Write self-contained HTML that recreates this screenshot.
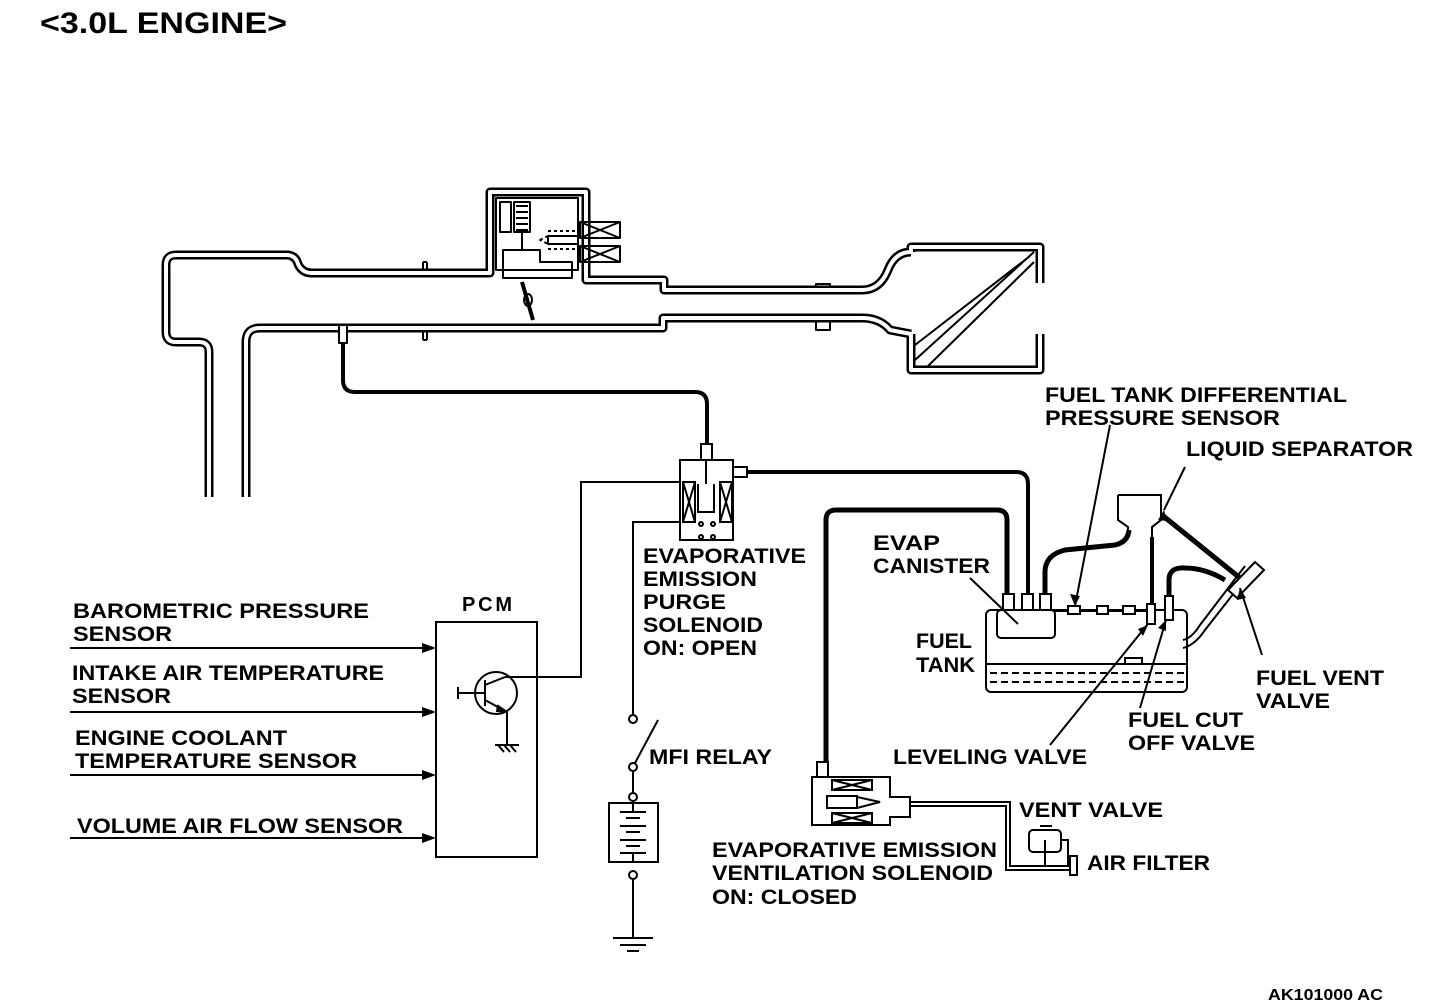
<!DOCTYPE html>
<html><head><meta charset="utf-8"><style>
html,body{margin:0;padding:0;background:#fff;}
svg{display:block;}
text{font-family:"Liberation Sans",sans-serif;font-weight:bold;fill:#000;}
</style></head><body>
<svg width="1456" height="1008" viewBox="0 0 1456 1008" xmlns="http://www.w3.org/2000/svg">
<text x="40" y="33" font-size="30" textLength="247" lengthAdjust="spacingAndGlyphs">&lt;3.0L ENGINE&gt;</text>

<!-- intake walls -->
<g fill="none" stroke-linejoin="round">
 <g stroke="#000" stroke-width="9">
  <path d="M209,497 L209,352 Q209,342 199,342 L176,342 Q166,342 166,332 L166,265 Q166,255 176,255 L288,255 Q296,256 298,264 Q302,273 312,273 L490,273 L490,192 L586,192 L586,280 L664,280 L664,290 L862,290 Q880,290 888,270 Q895,252 911,252"/>
  <path d="M246,497 L246,342 Q246,328 260,328 L663,328 L663,318 L862,318 Q880,318 890,330 L911,334"/>
  <path d="M911,252 L911,247 L1040,247 L1040,283 M911,334 L911,370 L1040,370 L1040,334"/>
 </g>
 <g stroke="#fff" stroke-width="4">
  <path d="M209,497 L209,352 Q209,342 199,342 L176,342 Q166,342 166,332 L166,265 Q166,255 176,255 L288,255 Q296,256 298,264 Q302,273 312,273 L490,273 L490,192 L586,192 L586,280 L664,280 L664,290 L862,290 Q880,290 888,270 Q895,252 911,252"/>
  <path d="M246,497 L246,342 Q246,328 260,328 L663,328 L663,318 L862,318 Q880,318 890,330 L911,334"/>
  <path d="M911,252 L911,247 L1040,247 L1040,283 M911,334 L911,370 L1040,370 L1040,334"/>
 </g>
 <!-- small flanges/notches -->
 <g stroke="#000" stroke-width="2">
  <path d="M423,262 L423,270 M427,262 L427,270 M423,262 L427,262"/>
  <path d="M423,331 L423,340 M427,331 L427,340 M423,340 L427,340"/>
  <path d="M816,284 L816,287 L830,287 L830,284 Z"/>
  <path d="M816,322 L816,330 L830,330 L830,322"/>
 </g>
 <!-- throttle internals -->
 <g stroke="#000" stroke-width="2">
  <rect x="496" y="198" width="82" height="72"/>
  <rect x="500" y="202" width="11" height="30"/>
  <rect x="514" y="202" width="16" height="30"/>
  <path d="M516,206 L528,206 M516,212 L528,212 M516,218 L528,218 M516,224 L528,224 M516,230 L528,230"/>
  <path d="M522,232 L522,250 M503,250 L540,250 L540,262 L572,262 L572,278 L503,278 Z"/>
  <rect x="580" y="222" width="40" height="16"/><path d="M580,222 L620,238 M620,222 L580,238"/>
  <rect x="580" y="246" width="40" height="16"/><path d="M580,246 L620,262 M620,246 L580,262"/>
  <rect x="548" y="236" width="30" height="8"/>
  <path d="M540,240 L548,236 L548,244 Z M548,231 L575,231 M548,249 L575,249" stroke-dasharray="3,3"/>
  <path d="M522,282 L533,320" stroke-width="4"/>
  <ellipse cx="528" cy="300" rx="4" ry="6"/>
  <path d="M915,360 L1034,252 M915,345 L1030,256 M928,366 L1034,262"/>
 </g>
 <!-- vacuum port and hose -->
 <rect x="339" y="325" width="8" height="18" fill="#fff" stroke="#000" stroke-width="2"/>
 <path d="M343,343 L343,380 Q343,392 355,392 L695,392 Q707,392 707,404 L707,445" stroke="#000" stroke-width="4"/>
</g>

<!-- purge solenoid -->
<g fill="none" stroke="#000" stroke-width="2">
 <rect x="701" y="444" width="11" height="16"/>
 <rect x="680" y="460" width="53" height="80" fill="#fff"/>
 <rect x="733" y="467" width="14" height="10"/>
 <rect x="683" y="482" width="12" height="40"/><path d="M683,482 L695,522 M695,482 L683,522"/>
 <rect x="720" y="482" width="12" height="40"/><path d="M720,482 L732,522 M732,482 L720,522"/>
 <path d="M706,460 L706,484 M698,484 L698,512 L714,512 L714,484"/>
 <circle cx="701" cy="524" r="2"/><circle cx="713" cy="524" r="2"/><circle cx="701" cy="537" r="2"/><circle cx="713" cy="537" r="2"/>
 <path d="M747,472 L1016,472 Q1028,472 1028,484 L1028,593" stroke-width="4"/>
 <!-- wires -->
 <path d="M505,677 L581,677 L581,482 L680,482"/>
 <path d="M680,522 L633,522 L633,715"/>
 <circle cx="633" cy="719" r="4" fill="#fff"/>
 <circle cx="633" cy="767" r="4" fill="#fff"/>
 <path d="M635,763 L658,720"/>
 <path d="M633,771 L633,793"/>
 <circle cx="633" cy="797" r="4" fill="#fff"/>
 <rect x="609" y="803" width="49" height="59"/>
 <path d="M620,812 L646,812 M626,818 L640,818 M620,826 L646,826 M626,832 L640,832 M620,840 L646,840 M626,846 L640,846 M620,853 L646,853 M633,801 L633,812 M633,853 L633,862"/>
 <circle cx="633" cy="875" r="4" fill="#fff"/>
 <path d="M633,879 L633,938 M613,938 L653,938 M620,945 L646,945 M627,951 L639,951"/>
 <!-- PCM -->
 <rect x="436" y="622" width="101" height="235"/>
 <circle cx="496" cy="693" r="21"/>
 <path d="M458,693 L485,693 M458,687 L458,699 M485,680 L485,706 M485,685 L505,677 M485,700 L507,712 L507,745 M495,745 L519,745 M498,745 L504,752 M504,745 L510,752 M510,745 L516,752"/>
 <path d="M498,706 L507,712 L497,711 Z" fill="#000"/>
 <path d="M70,648 L430,648 M70,712 L430,712 M70,775 L430,775 M70,838 L430,838"/>
</g>
<g fill="#000">
 <path d="M436,648 L422,643 L422,653 Z"/><path d="M436,712 L422,707 L422,717 Z"/>
 <path d="M436,775 L422,770 L422,780 Z"/><path d="M436,838 L422,833 L422,843 Z"/>
</g>
<text x="462" y="611" font-size="20" textLength="50">PCM</text>
<g font-size="21">
<text x="73" y="618" textLength="296" lengthAdjust="spacingAndGlyphs">BAROMETRIC PRESSURE</text>
<text x="73" y="641" textLength="99" lengthAdjust="spacingAndGlyphs">SENSOR</text>
<text x="72" y="680" textLength="312" lengthAdjust="spacingAndGlyphs">INTAKE AIR TEMPERATURE</text>
<text x="72" y="703" textLength="99" lengthAdjust="spacingAndGlyphs">SENSOR</text>
<text x="75" y="745" textLength="212" lengthAdjust="spacingAndGlyphs">ENGINE COOLANT</text>
<text x="75" y="768" textLength="282" lengthAdjust="spacingAndGlyphs">TEMPERATURE SENSOR</text>
<text x="77" y="833" textLength="326" lengthAdjust="spacingAndGlyphs">VOLUME AIR FLOW SENSOR</text>
<text x="643" y="563" textLength="163" lengthAdjust="spacingAndGlyphs">EVAPORATIVE</text>
<text x="643" y="586" textLength="114" lengthAdjust="spacingAndGlyphs">EMISSION</text>
<text x="643" y="609" textLength="83" lengthAdjust="spacingAndGlyphs">PURGE</text>
<text x="643" y="632" textLength="120" lengthAdjust="spacingAndGlyphs">SOLENOID</text>
<text x="643" y="655" textLength="114" lengthAdjust="spacingAndGlyphs">ON: OPEN</text>
<text x="649" y="764" textLength="123" lengthAdjust="spacingAndGlyphs">MFI RELAY</text>
<text x="1045" y="402" textLength="302" lengthAdjust="spacingAndGlyphs">FUEL TANK DIFFERENTIAL</text>
<text x="1045" y="425" textLength="235" lengthAdjust="spacingAndGlyphs">PRESSURE SENSOR</text>
<text x="1186" y="456" textLength="227" lengthAdjust="spacingAndGlyphs">LIQUID SEPARATOR</text>
<text x="873" y="550" textLength="67" lengthAdjust="spacingAndGlyphs">EVAP</text>
<text x="873" y="573" textLength="117" lengthAdjust="spacingAndGlyphs">CANISTER</text>
<text x="916" y="648" textLength="56" lengthAdjust="spacingAndGlyphs">FUEL</text>
<text x="916" y="672" textLength="59" lengthAdjust="spacingAndGlyphs">TANK</text>
<text x="1256" y="685" textLength="128" lengthAdjust="spacingAndGlyphs">FUEL VENT</text>
<text x="1256" y="708" textLength="74" lengthAdjust="spacingAndGlyphs">VALVE</text>
<text x="1128" y="727" textLength="115" lengthAdjust="spacingAndGlyphs">FUEL CUT</text>
<text x="1128" y="750" textLength="127" lengthAdjust="spacingAndGlyphs">OFF VALVE</text>
<text x="893" y="764" textLength="194" lengthAdjust="spacingAndGlyphs">LEVELING VALVE</text>
<text x="1019" y="817" textLength="144" lengthAdjust="spacingAndGlyphs">VENT VALVE</text>
<text x="1087" y="870" textLength="123" lengthAdjust="spacingAndGlyphs">AIR FILTER</text>
<text x="712" y="857" textLength="285" lengthAdjust="spacingAndGlyphs">EVAPORATIVE EMISSION</text>
<text x="712" y="880" textLength="281" lengthAdjust="spacingAndGlyphs">VENTILATION SOLENOID</text>
<text x="712" y="904" textLength="145" lengthAdjust="spacingAndGlyphs">ON: CLOSED</text>
</g>
<text x="1268" y="1000" font-size="16" textLength="115" lengthAdjust="spacingAndGlyphs">AK101000 AC</text>

<!-- tank area -->
<g fill="none" stroke="#000" stroke-width="2">
 <rect x="986" y="610" width="201" height="82" rx="5"/>
 <path d="M986,664 L1187,664 M1125,664 L1125,658 L1142,658 L1142,664"/>
 <path d="M990,673 L1185,673 M990,682 L1185,682" stroke-dasharray="7,4"/>
 <rect x="997" y="610" width="58" height="28" rx="4" fill="#fff"/>
 <rect x="1003" y="594" width="11" height="16" fill="#fff"/>
 <rect x="1022" y="594" width="11" height="16" fill="#fff"/>
 <rect x="1040" y="594" width="11" height="16" fill="#fff"/>
 <path d="M1055,611 L1147,611"/>
 <rect x="1068" y="606" width="12" height="8" fill="#fff"/>
 <rect x="1097" y="606" width="11" height="8" fill="#fff"/>
 <rect x="1123" y="606" width="12" height="8" fill="#fff"/>
 <rect x="1147" y="604" width="8" height="20" fill="#fff"/>
 <rect x="1165" y="596" width="8" height="24" fill="#fff"/>
 <path d="M1118,495 L1161,495 L1161,520 L1152,527 L1152,537 M1118,495 L1118,520 L1128,527 L1128,537"/>
 <path d="M1152,537 L1152,604" stroke-width="4"/>
 <path d="M1007,594 L1007,520 Q1007,510 997,510 L836,510 Q826,510 826,520 L826,762" stroke-width="5"/>
 <path d="M1045,594 L1045,572 Q1045,555 1065,550 L1115,545 Q1128,542 1129,530" stroke-width="5"/>
 <path d="M1169,596 L1169,580 Q1169,567 1185,568 Q1205,568 1225,580" stroke-width="5"/>
 <path d="M1162,515 L1240,578" stroke-width="5"/>
 <path d="M1183,648 Q1195,645 1205,630 L1252,570 M1183,640 Q1192,638 1200,625 L1245,566"/>
 <path d="M1228,590 L1255,562 L1264,570 L1237,598 Z" fill="#fff"/>
 <path d="M1110,425 L1075,606 M1185,467 L1164,510 M1262,655 L1240,588 M1140,708 L1166,620 M1050,745 L1147,625 M970,578 L1018,624"/>
 <!-- ventilation solenoid -->
 <rect x="817" y="762" width="11" height="15" fill="#fff"/>
 <path d="M812,777 L890,777 L890,797 L910,797 L910,817 L890,817 L890,825 L812,825 Z" fill="#fff"/>
 <rect x="832" y="780" width="40" height="10"/><path d="M832,780 L872,790 M872,780 L832,790"/>
 <rect x="832" y="813" width="40" height="10"/><path d="M832,813 L872,823 M872,813 L832,823"/>
 <rect x="827" y="796" width="30" height="12"/><path d="M857,797 L880,802 L857,808"/>
 <path d="M910,802 L1010,802 L1010,866 L1070,866 M910,806 L1006,806 L1006,870 L1070,870"/>
 <rect x="1070" y="856" width="7" height="19"/>
 <rect x="1029" y="830" width="32" height="22" rx="4"/>
 <path d="M1040,826 L1052,826 M1045,840 L1045,866 M1061,840 L1068,840 L1068,866"/>
</g>
<path d="M1148,625 L1138,629 L1143,636 Z M1166,620 L1158,628 L1166,631 Z M1075,606 L1070,594 L1080,596 Z M1164,510 L1158,520 L1167,521 Z M1240,588 L1237,600 L1246,598 Z" fill="#000"/>
</svg>
</body></html>
